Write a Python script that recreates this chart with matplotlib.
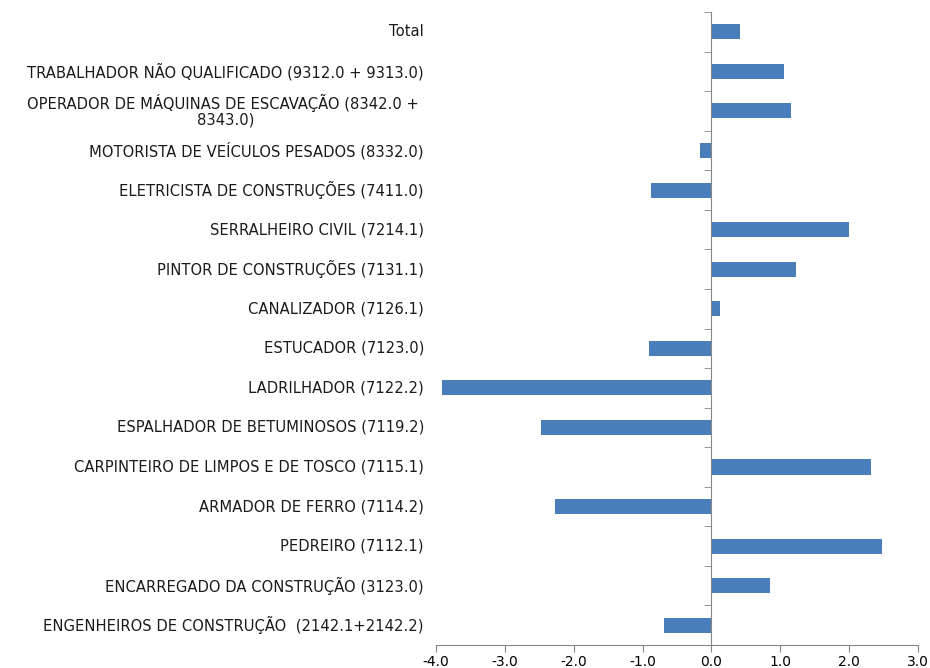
import numpy as np
import matplotlib
matplotlib.use("Agg")
import matplotlib.pyplot as plt

plt.rcParams['font.family'] = ['DejaVu Sans']
plt.rcParams['axes.unicode_minus'] = False

# categorias de cima para baixo
categorias = [
    "Total",
    "TRABALHADOR NÃO QUALIFICADO (9312.0 + 9313.0)",
    "OPERADOR DE MÁQUINAS DE ESCAVAÇÃO (8342.0 + \n8343.0)",
    "MOTORISTA DE VEÍCULOS PESADOS (8332.0)",
    "ELETRICISTA DE CONSTRUÇÕES (7411.0)",
    "SERRALHEIRO CIVIL (7214.1)",
    "PINTOR DE CONSTRUÇÕES (7131.1)",
    "CANALIZADOR (7126.1)",
    "ESTUCADOR (7123.0)",
    "LADRILHADOR (7122.2)",
    "ESPALHADOR DE BETUMINOSOS (7119.2)",
    "CARPINTEIRO DE LIMPOS E DE TOSCO (7115.1)",
    "ARMADOR DE FERRO (7114.2)",
    "PEDREIRO (7112.1)",
    "ENCARREGADO DA CONSTRUÇÃO (3123.0)",
    "ENGENHEIROS DE CONSTRUÇÃO  (2142.1+2142.2)",
]
valores = [0.41, 1.06, 1.15, -0.17, -0.87, 2.00, 1.23, 0.13, -0.90,
           -3.91, -2.48, 2.32, -2.27, 2.48, 0.85, -0.69]
xticks = [-4, -3, -2, -1, 0, 1, 2, 3]

cor_barra = '#4A7EBB'
cor_eixo = '#868686'

n = len(categorias)
ypos = np.arange(n)[::-1]

fig = plt.figure(figsize=(9.3, 6.68), dpi=100)
ax = fig.add_axes([0.4688, 0.0344, 0.5182, 0.9476])

ax.barh(ypos, valores, height=0.38, color=cor_barra)

ax.set_xlim(-4, 3)
ax.set_ylim(-0.5, n - 0.5)
ax.set_xticks(xticks)
ax.set_xticklabels([f"{v:.1f}" for v in xticks], fontsize=10)

for s in ['top', 'right']:
    ax.spines[s].set_visible(False)
ax.spines['left'].set_position(('data', 0))
ax.spines['left'].set_color(cor_eixo)
ax.spines['bottom'].set_color(cor_eixo)

ax.tick_params(axis='x', colors=cor_eixo, labelcolor='black', length=5,
               direction='out', pad=2)
ax.set_yticks(ypos)
ax.set_yticklabels([])
ax.tick_params(axis='y', which='major', length=0)
ax.set_yticks(np.arange(n + 1) - 0.5, minor=True)
ax.tick_params(axis='y', which='minor', length=5, color=cor_eixo, direction='out')

trans = ax.get_yaxis_transform()
for y, txt in zip(ypos, categorias):
    ax.text(-0.025, y, txt, transform=trans, ha='right', va='center',
            multialignment='center', fontsize=10.6, color='#1a1a1a',
            linespacing=1.05)

fig.savefig('out.png', dpi=100)
